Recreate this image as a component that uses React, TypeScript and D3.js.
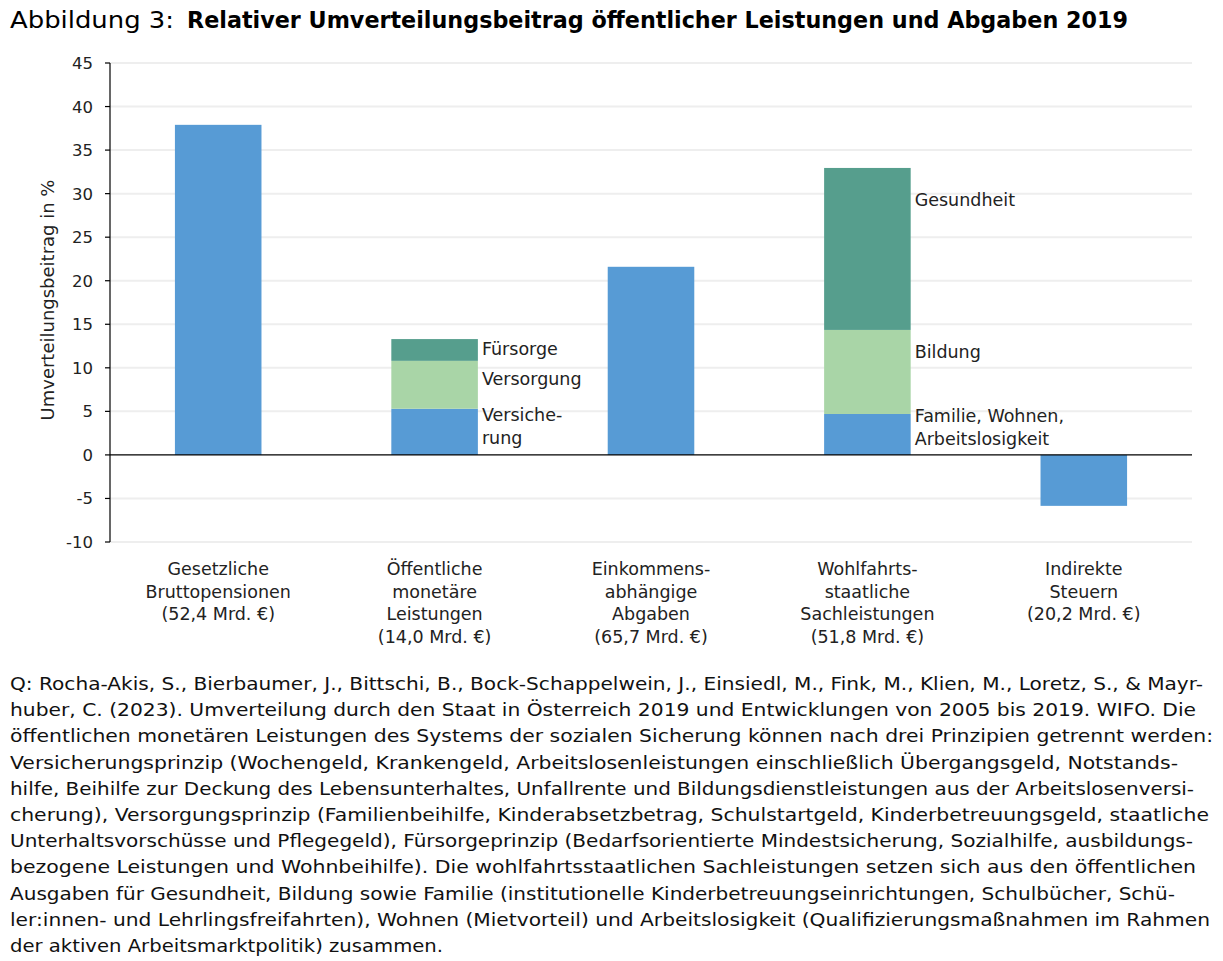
import React from "react";
import * as d3 from "d3";

// Kategorien (Zeilen der Achsenbeschriftung)
const categories = [
  ["Gesetzliche", "Bruttopensionen", "(52,4 Mrd. €)"],
  ["Öffentliche", "monetäre", "Leistungen", "(14,0 Mrd. €)"],
  ["Einkommens-", "abhängige", "Abgaben", "(65,7 Mrd. €)"],
  ["Wohlfahrts-", "staatliche", "Sachleistungen", "(51,8 Mrd. €)"],
  ["Indirekte", "Steuern", "(20,2 Mrd. €)"],
];

// Segmente von unten nach oben
const seriesBase = [37.9, 5.3, 21.6, 4.7, -5.85];
const seriesMiddle = [0, 5.5, 0, 9.65, 0];
const seriesTop = [0, 2.5, 0, 18.6, 0];
const seriesKeys = ["base", "middle", "top"];
const seriesColors = ["#579bd5", "#a9d5a7", "#569e8d"];

const yTicks = [-10, -5, 0, 5, 10, 15, 20, 25, 30, 35, 40, 45];

// Beschriftungen an den gestapelten Balken (anchor = Anteil der Segmenthöhe von oben)
const segmentLabels = [
  { cat: 1, key: "top", lines: ["Fürsorge"], anchor: 0.45 },
  { cat: 1, key: "middle", lines: ["Versorgung"], anchor: 0.38 },
  { cat: 1, key: "base", lines: ["Versiche-", "rung"], anchor: 0.39 },
  { cat: 3, key: "top", lines: ["Gesundheit"], anchor: 0.2 },
  { cat: 3, key: "middle", lines: ["Bildung"], anchor: 0.26 },
  { cat: 3, key: "base", lines: ["Familie, Wohnen,", "Arbeitslosigkeit"], anchor: 0.32 },
];

const titleLead = "Abbildung 3:";
const titleMain = "Relativer Umverteilungsbeitrag öffentlicher Leistungen und Abgaben 2019";
const yTitle = "Umverteilungsbeitrag in %";

const noteLines = [
  "Q: Rocha-Akis, S., Bierbaumer, J., Bittschi, B., Bock-Schappelwein, J., Einsiedl, M., Fink, M., Klien, M., Loretz, S., & Mayr-",
  "huber, C. (2023). Umverteilung durch den Staat in Österreich 2019 und Entwicklungen von 2005 bis 2019. WIFO. Die",
  "öffentlichen monetären Leistungen des Systems der sozialen Sicherung können nach drei Prinzipien getrennt werden:",
  "Versicherungsprinzip (Wochengeld, Krankengeld, Arbeitslosenleistungen einschließlich Übergangsgeld, Notstands-",
  "hilfe, Beihilfe zur Deckung des Lebensunterhaltes, Unfallrente und Bildungsdienstleistungen aus der Arbeitslosenversi-",
  "cherung), Versorgungsprinzip (Familienbeihilfe, Kinderabsetzbetrag, Schulstartgeld, Kinderbetreuungsgeld, staatliche",
  "Unterhaltsvorschüsse und Pflegegeld), Fürsorgeprinzip (Bedarfsorientierte Mindestsicherung, Sozialhilfe, ausbildungs-",
  "bezogene Leistungen und Wohnbeihilfe). Die wohlfahrtsstaatlichen Sachleistungen setzen sich aus den öffentlichen",
  "Ausgaben für Gesundheit, Bildung sowie Familie (institutionelle Kinderbetreuungseinrichtungen, Schulbücher, Schü-",
  "ler:innen- und Lehrlingsfreifahrten), Wohnen (Mietvorteil) und Arbeitslosigkeit (Qualifizierungsmaßnahmen im Rahmen",
  "der aktiven Arbeitsmarktpolitik) zusammen.",
];
const noteWidths = [1193, 1186, 1203, 1168, 1184, 1199, 1183, 1186, 1165, 1200, 433];

const FONT = "'DejaVu Sans', sans-serif";

export default function App() {
  const width = 1223;
  const height = 961;
  const plot = { left: 110, right: 1192, top: 63, bottom: 542 };

  const rows = categories.map((_, i) => ({
    cat: i,
    base: seriesBase[i],
    middle: seriesMiddle[i],
    top: seriesTop[i],
  }));

  const stacked = d3
    .stack<any>()
    .keys(seriesKeys)
    .offset(d3.stackOffsetDiverging)(rows);

  const x = d3
    .scaleBand<number>()
    .domain(categories.map((_, i) => i))
    .range([plot.left, plot.right])
    .paddingInner(0.6)
    .paddingOuter(0.3);

  const y = d3.scaleLinear().domain([-10, 45]).range([plot.bottom, plot.top]);

  const segOf = (cat: number, key: string) => {
    const s = stacked.find((d) => d.key === key)!;
    return s[cat];
  };

  return (
    <svg
      width={width}
      height={height}
      style={{ position: "absolute", left: 0, top: 0, background: "#fff" }}
      fontFamily={FONT}
    >
      {/* Titel */}
      <text x={10} y={28} fontSize={23.5} fill="#000" textLength={164} lengthAdjust="spacingAndGlyphs">
        {titleLead}
      </text>
      <text
        x={187}
        y={28}
        fontSize={22.9}
        fontWeight="bold"
        fill="#000"
        textLength={941}
        lengthAdjust="spacingAndGlyphs"
      >
        {titleMain}
      </text>

      {/* Gitterlinien */}
      {yTicks
        .filter((t) => t !== 0)
        .map((t) => (
          <line
            key={"g" + t}
            x1={plot.left}
            x2={plot.right}
            y1={y(t)}
            y2={y(t)}
            stroke="#eeeeee"
            strokeWidth={2}
          />
        ))}

      {/* Balken */}
      {stacked.map((s, si) =>
        s.map((d, i) =>
          d[1] - d[0] === 0 ? null : (
            <rect
              key={s.key + i}
              x={x(i)}
              width={x.bandwidth()}
              y={y(Math.max(d[0], d[1]))}
              height={Math.abs(y(d[0]) - y(d[1]))}
              fill={seriesColors[si]}
            />
          )
        )
      )}

      {/* Null-Linie */}
      <line x1={plot.left} x2={plot.right} y1={y(0)} y2={y(0)} stroke="#000" strokeWidth={1.2} />

      {/* Y-Achse */}
      <line x1={plot.left} x2={plot.left} y1={plot.top} y2={plot.bottom} stroke="#000" strokeWidth={1.2} />
      {yTicks.map((t) => (
        <g key={"t" + t}>
          <line x1={plot.left - 5} x2={plot.left} y1={y(t)} y2={y(t)} stroke="#000" strokeWidth={1.2} />
          <text x={plot.left - 17} y={y(t) + 6} textAnchor="end" fontSize={16.5} fill="#222">
            {t}
          </text>
        </g>
      ))}
      <text
        transform={`translate(54,300) rotate(-90)`}
        textAnchor="middle"
        fontSize={18}
        fill="#222"
      >
        {yTitle}
      </text>

      {/* Kategorien */}
      {categories.map((lines, i) => (
        <text
          key={"c" + i}
          x={x(i)! + x.bandwidth() / 2}
          y={575}
          textAnchor="middle"
          fontSize={17.5}
          fill="#222"
        >
          {lines.map((l, j) => (
            <tspan key={j} x={x(i)! + x.bandwidth() / 2} dy={j === 0 ? 0 : 22.7}>
              {l}
            </tspan>
          ))}
        </text>
      ))}

      {/* Segmentbeschriftungen */}
      {segmentLabels.map((lb, k) => {
        const seg = segOf(lb.cat, lb.key);
        const top = y(seg[1]);
        const bottom = y(seg[0]);
        const lineH = 23;
        const blockH = (lb.lines.length - 1) * lineH;
        const cy = top + (bottom - top) * lb.anchor - blockH / 2;
        const lx = x(lb.cat)! + x.bandwidth() + 4;
        return (
          <text key={"s" + k} x={lx} y={cy + 6} fontSize={17.5} fill="#222">
            {lb.lines.map((l, j) => (
              <tspan key={j} x={lx} dy={j === 0 ? 0 : lineH}>
                {l}
              </tspan>
            ))}
          </text>
        );
      })}

      {/* Quelle / Anmerkungen */}
      {noteLines.map((l, i) => (
        <text
          key={"n" + i}
          x={10}
          y={690 + i * 26.2}
          fontSize={17.5}
          fill="#111"
          textLength={noteWidths[i]}
          lengthAdjust="spacingAndGlyphs"
        >
          {l}
        </text>
      ))}
    </svg>
  );
}
